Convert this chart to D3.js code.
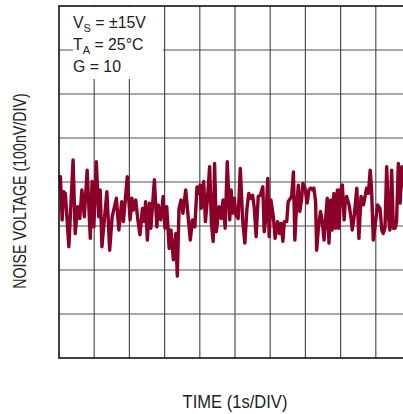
<!DOCTYPE html>
<html>
<head>
<meta charset="utf-8">
<script src="https://cdn.jsdelivr.net/npm/d3@7"></script>
<style>
  html, body { margin: 0; padding: 0; background: #fff; }
  svg { display: block; }
  text { font-family: "Liberation Sans", Arial, sans-serif; fill: #222; }
</style>
</head>
<body>
<svg id="chart" width="403" height="414"></svg>
<script>
// Time in seconds (1 s/div), noise voltage in nV (100 nV/div)
const timeS = [0,0.04,0.09,0.13,0.18,0.28,0.40,0.46,0.53,0.59,0.65,0.72,0.80,0.89,0.94,0.99,1.06,1.13,1.17,1.22,
  1.36,1.44,1.51,1.63,1.70,1.78,1.83,1.94,2.02,2.07,2.11,2.18,2.24,2.30,2.37,2.42,2.46,2.51,2.57,2.61,
  2.71,2.78,2.82,2.89,2.96,3.01,3.06,3.13,3.18,3.25,3.32,3.36,3.41,3.47,3.52,3.60,3.66,3.73,3.79,3.86,
  3.92,3.98,4.01,4.04,4.11,4.16,4.21,4.28,4.33,4.38,4.42,4.47,4.55,4.61,4.66,4.72,4.78,4.85,4.89,4.93,
  4.98,5.03,5.09,5.15,5.22,5.28,5.34,5.39,5.45,5.50,5.55,5.60,5.66,5.72,5.79,5.83,5.88,5.93,5.97,6.02,
  6.09,6.14,6.21,6.26,6.31,6.36,6.40,6.47,6.51,6.61,6.66,6.70,6.74,6.80,6.84,6.89,6.93,6.99,7.05,7.10,
  7.15,7.20,7.24,7.29,7.32,7.37,7.43,7.48,7.53,7.58,7.62,7.67,7.72,7.76,7.81,7.86,7.91,7.95,8.00,8.05,
  8.10,8.13,8.17,8.24,8.30,8.33,8.39,8.46,8.52,8.58,8.65,8.71,8.74,8.79,8.84,8.88,8.93,9.00,9.05,9.12,
  9.17,9.21,9.26,9.31,9.36,9.40,9.45,9.50,9.55,9.59,9.64,9.69,9.74,9.78,9.85,9.92,10.0];
const noiseNV = [11,12,-86,-22,-26,-147,50,-117,-56,-83,-18,-79,27,-128,1,-102,46,-79,-18,-147,
  -22,-155,-79,-37,-109,-45,-90,12,-86,-37,-64,-41,-86,-120,-60,-90,-45,-132,-48,-105,
  5,-102,-52,-86,-33,-105,-56,-151,-109,-177,-117,-214,-60,-41,-71,-18,-71,-132,-86,-102,
  -11,-26,-7,-60,1,-90,-45,35,-94,-135,42,-113,-56,-83,-41,-105,46,-86,-18,-71,
  -37,-75,-83,31,-90,-139,-60,-26,-37,-30,-60,-124,-33,-30,-11,-113,-79,8,-124,-41,
  -79,-128,-90,-117,-94,-135,-90,-90,-45,-33,23,-132,-67,-7,-67,-41,-3,-14,-48,-18,
  -14,-18,-14,-45,-155,-105,-67,-90,-132,-79,-37,-139,-41,-109,-26,-105,-18,-105,-18,-7,
  -86,-48,-33,-52,-83,-109,-75,-14,-128,-33,-52,-26,-14,-26,27,-18,-132,-86,-52,-60,
  -109,-117,-105,35,-79,-109,27,-105,-105,-90,42,-48,35,31,-60,10,-40];

const xTicks = d3.range(0, 11, 1);          // divisions, 1 s each
const yTicks = d3.range(-400, 401, 100);    // divisions, 100 nV each
const legendLines = [
  {main: "V", sub: "S", rest: " = ±15V"},
  {main: "T", sub: "A", rest: " = 25°C"},
  {main: "G = 10", sub: "", rest: ""}
];
const xTitle = "TIME (1s/DIV)";
const yTitle = "NOISE VOLTAGE (100nV/DIV)";

const svg = d3.select("#chart");
const L = 59, T = 6, W = 352, H = 352;
const x = d3.scaleLinear().domain([0, 10]).range([L, L + W]);
const y = d3.scaleLinear().domain([-400, 400]).range([T + H, T]);

// grid
const g = svg.append("g");
g.selectAll("line.v").data(xTicks.slice(1, -1)).join("line")
  .attr("x1", d => x(d)).attr("x2", d => x(d))
  .attr("y1", T).attr("y2", T + H)
  .attr("stroke", "#505050").attr("stroke-width", 1.2);
g.selectAll("line.h").data(yTicks.slice(1, -1)).join("line")
  .attr("x1", L).attr("x2", L + W)
  .attr("y1", d => y(d)).attr("y2", d => y(d))
  .attr("stroke", "#505050").attr("stroke-width", 1.2);

// legend background
svg.append("rect").attr("x", 73).attr("y", T + 1).attr("width", 90).attr("height", 72).attr("fill", "#fff");

// trace
const pts = timeS.map((t, i) => [t, noiseNV[i]]);
svg.append("path").datum(pts)
  .attr("d", d3.line().x(d => x(d[0])).y(d => y(d[1])))
  .attr("fill", "none").attr("stroke", "#8a0027").attr("stroke-width", 3.4)
  .attr("stroke-linejoin", "round");

// frame
svg.append("rect").attr("x", L).attr("y", T).attr("width", W).attr("height", H)
  .attr("fill", "none").attr("stroke", "#111").attr("stroke-width", 1.6);

// legend text
const lg = svg.append("g");
legendLines.forEach((l, i) => {
  const t = lg.append("text")
    .attr("transform", `translate(73,${28.3 + i * 21.7}) scale(0.96,1)`)
    .attr("font-size", 16.5);
  t.append("tspan").text(l.main);
  if (l.sub) t.append("tspan").attr("font-size", 11.5).attr("dy", 4).text(l.sub);
  if (l.rest) t.append("tspan").attr("dy", l.sub ? -4 : 0).text(l.rest);
});

// axis titles
svg.append("text").attr("transform", `translate(${x(5)},408) scale(0.92,1)`).attr("text-anchor", "middle")
  .attr("font-size", 18).text(xTitle);
svg.append("text").attr("transform", "translate(26,191) rotate(-90) scale(0.79,1)").attr("text-anchor", "middle")
  .attr("font-size", 18).text(yTitle);
</script>
</body>
</html>
